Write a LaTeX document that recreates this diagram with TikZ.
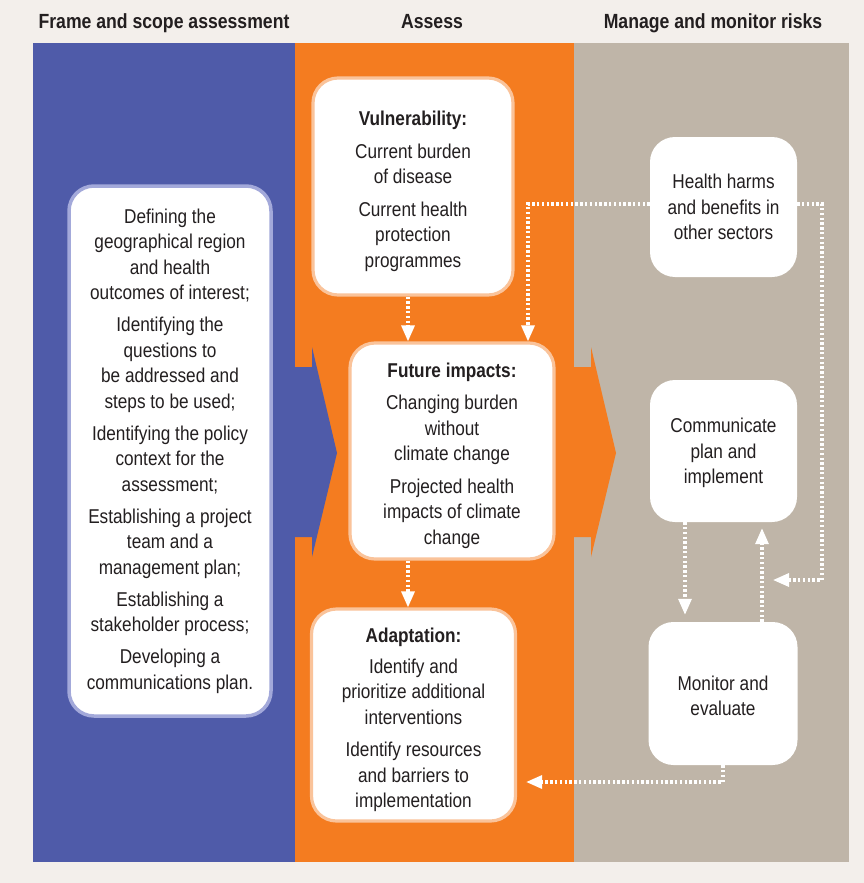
\documentclass[tikz,border=0pt]{standalone}
\usepackage{fontspec}
\setmainfont{Liberation Sans}[FakeStretch=0.86]
\usetikzlibrary{arrows.meta}
\definecolor{bg}{HTML}{F3EFEB}
\definecolor{cblue}{HTML}{4F5BA9}
\definecolor{corange}{HTML}{F47C20}
\definecolor{cgray}{HTML}{BFB5A8}
\definecolor{lblue}{HTML}{A3A9DA}
\definecolor{lorange}{HTML}{FAC39A}
\definecolor{txt}{HTML}{231F20}
\newcommand\myBody{\fontsize{20}{25.5}\selectfont}
\newcommand\myHead{\fontsize{20.5}{24}\selectfont\bfseries}
\newcommand\myStrut[1]{\rule{0pt}{#1}}
\begin{document}
\begin{tikzpicture}[x=1pt,y=-1pt,
  box/.style={rectangle, rounded corners=25pt, fill=white, align=center,
    text=txt, font=\myBody, inner sep=0pt},
  bbox/.style={box, draw=lblue, line width=3.5pt},
  obox/.style={box, draw=lorange, line width=3.2pt},
  gbox/.style={box},
  hdr/.style={text=txt, font=\myHead, inner sep=0pt, anchor=base},
  conn/.style={draw=white, line width=3.2pt, dash pattern=on 2.4pt off 2.4pt,
    -{Triangle[length=16pt,width=13pt]}}
]
\useasboundingbox (0,0) rectangle (864,883);
\fill[bg] (0,0) rectangle (864,883);
% columns
\fill[cblue] (33,43) rectangle (295,862);
\fill[corange] (295,43) rectangle (574,862);
\fill[cgray] (574,43) rectangle (849,862);
% headers
\node[hdr] (h1) at (164,29) {Frame and scope assessment};
\node[hdr] (h2) at (432,29) {Assess};
\node[hdr] (h3) at (713,29) {Manage and monitor risks};
% chevrons
\fill[cblue] (294,367) -- (312,367) -- (312,347) -- (337,453) -- (312,557)
  -- (312,537) -- (294,537) -- cycle;
\fill[corange] (573,367) -- (591,367) -- (591,347) -- (616,453) -- (591,557)
  -- (591,537) -- (573,537) -- cycle;
% boxes
\node[bbox, minimum width=202pt, minimum height=530pt] (frame) at (170,451)
 {Defining the\\ geographical region\\ and health\\ outcomes of interest;\\[6.5pt]
  Identifying the\\ questions to\\ be addressed and\\ steps to be used;\\[6.5pt]
  Identifying the policy\\ context for the\\ assessment;\\[6.5pt]
  Establishing a project\\ team and a\\ management plan;\\[6.5pt]
  Establishing a\\ stakeholder process;\\[6.5pt]
  Developing a\\ communications plan.};
\node[obox, minimum width=200pt, minimum height=217pt] (vul) at (413,186.5)
 {\myStrut{24pt}\textbf{Vulnerability:}\\[7pt] Current burden\\ of disease\\[7pt]
  Current health\\ protection\\ programmes};
\node[obox, minimum width=204pt, minimum height=216pt] (fut) at (452,451)
 {\myStrut{24pt}\textbf{Future impacts:}\\[7pt] Changing burden\\ without\\ climate change\\[7pt]
  Projected health\\ impacts of climate\\ change};
\node[obox, minimum width=204pt, minimum height=212pt] (ada) at (413.5,715)
 {\myStrut{25pt}\textbf{Adaptation:}\\[5pt] Identify and\\ prioritize additional\\ interventions\\[7pt]
  Identify resources\\ and barriers to\\ implementation};
\node[gbox, minimum width=147pt, minimum height=140pt] (hh) at (723.5,207)
 {Health harms\\ and benefits in\\ other sectors};
\node[gbox, minimum width=147pt, minimum height=142pt] (com) at (723.5,451)
 {\myStrut{19pt}Communicate\\ plan and\\ implement};
\node[gbox, minimum width=149pt, minimum height=143pt] (mon) at (723,693.5)
 {\myStrut{19pt}Monitor and\\ evaluate};
% connectors
\coordinate (c1) at (822,580);
\coordinate (c2) at (773,580);
\draw[conn] ([xshift=-5pt]vul.south) -- ([xshift=-5pt]vul.south |- fut.north);
\draw[conn] ([yshift=3pt]hh.west) -| ([xshift=76pt]fut.north);
\draw[conn] ([xshift=-44pt]fut.south) -- ([xshift=-44pt]fut.south |- ada.north);
\draw[conn, shorten >=7pt] ([xshift=-38.5pt]com.south) -- ([xshift=-38.5pt]com.south |- mon.north);
\draw[conn, shorten >=6pt] ([xshift=39pt]mon.north) -- ([xshift=39pt]mon.north |- com.south);
\draw[conn] ([yshift=3pt]hh.east) -| (c1) -- (c2);
\draw[conn, shorten >=9pt] (mon.south) |- ([yshift=-67pt]ada.east);
\end{tikzpicture}
\end{document}
